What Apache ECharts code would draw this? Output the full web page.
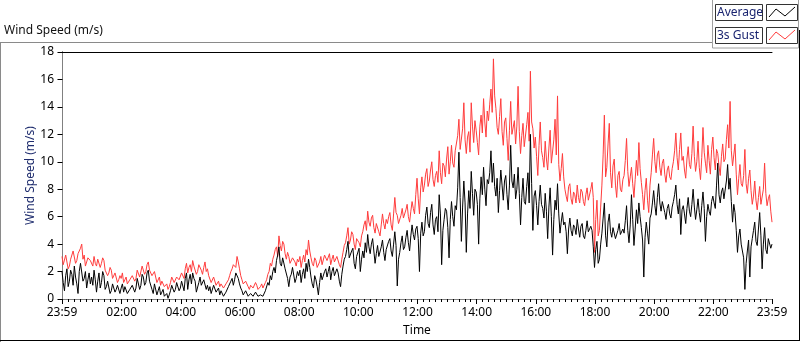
<!DOCTYPE html>
<html>
<head>
<meta charset="utf-8">
<script src="https://cdn.jsdelivr.net/npm/echarts@6/dist/echarts.min.js"></script>
<style>
html,body{margin:0;padding:0;background:#fff;}
#chart{width:800px;height:342px;}
</style>
</head>
<body>
<div id="chart"></div>
<script>
// Sampling: one reading every 2.5 minutes, starting at 23:59 (minute -1 relative to 00:00)
const startMinute = -1;
const stepMinutes = 2.5;

// 3s Gust (m/s), hour blocks of 24 readings
const gust = [
  3.1,2.5,2.6,3.2,3.3,2.2,2.4,2.9,3.0,3.5,3.6,2.6,2.8,3.3,3.4,3.7,4.0,2.9,3.2,2.4,2.7,3.0,3.1,2.8,
  2.9,2.4,3.1,2.6,2.4,2.9,3.0,2.3,2.6,3.0,2.8,2.1,2.2,1.7,1.9,2.3,2.1,1.5,1.6,1.9,1.8,1.2,1.4,1.7,
  1.5,1.9,1.2,1.4,1.6,1.1,1.0,1.4,1.3,1.7,1.8,1.3,1.5,2.1,2.0,1.6,1.7,2.4,2.3,1.8,2.0,2.5,2.7,2.1,
  2.2,1.7,1.6,2.0,1.9,1.2,1.3,1.6,1.0,1.3,1.4,0.9,0.9,1.1,0.7,0.9,1.2,1.6,1.5,1.2,1.3,1.6,1.6,1.4,
  1.4,1.9,1.8,1.5,2.2,2.6,1.9,2.3,2.5,2.0,2.8,2.4,2.3,1.8,2.0,2.5,2.6,2.1,1.8,2.3,2.7,2.0,2.2,1.7,
  1.6,1.2,1.3,1.6,1.5,1.0,1.1,1.3,0.9,1.1,1.2,0.8,0.8,1.1,1.0,1.4,1.7,2.0,2.2,2.5,2.6,2.3,3.1,2.7,
  2.2,1.7,1.4,1.1,1.0,1.3,1.3,0.9,0.7,1.0,1.1,0.8,0.8,1.2,1.0,0.7,0.6,0.9,1.1,0.8,0.9,1.2,1.4,1.8,
  2.0,2.6,2.4,2.9,3.2,3.6,3.8,3.1,4.6,3.9,3.5,4.2,4.0,3.3,2.9,3.4,3.1,2.6,2.5,3.0,3.0,2.7,2.4,2.9,
  2.7,3.1,2.3,2.8,3.2,2.7,3.6,3.2,4.3,3.5,3.0,2.6,2.4,3.0,2.8,2.3,2.2,2.7,3.1,2.5,2.6,3.2,3.3,2.8,
  2.9,3.3,2.5,2.9,3.2,2.7,2.6,3.1,3.0,2.5,2.3,2.9,3.4,3.9,4.1,4.6,5.2,4.0,4.3,4.9,4.7,4.0,3.6,4.4,
  4.5,4.1,3.8,4.6,4.9,5.4,5.7,5.0,6.4,5.6,5.3,5.9,6.1,5.2,4.8,5.5,5.6,4.9,4.6,5.4,6.2,5.5,5.1,5.8,
  5.5,6.0,6.3,5.4,5.0,6.2,7.4,6.3,6.1,5.5,5.4,6.1,6.6,5.9,5.8,6.5,6.9,6.0,5.6,6.4,7.1,6.6,6.2,7.6,
  8.8,7.3,6.2,8.1,8.9,7.8,8.3,9.1,9.5,8.2,8.6,9.4,10.0,8.7,8.2,9.0,9.3,8.5,10.8,9.2,8.4,9.9,9.7,8.9,
  10.2,11.1,9.1,10.0,11.2,9.9,9.6,10.8,10.7,11.9,13.1,10.9,11.0,12.4,14.3,11.6,10.6,11.8,12.2,10.7,14.3,12.6,11.4,13.0,
  12.3,11.4,10.5,12.6,13.4,12.1,14.6,12.9,11.8,13.7,13.0,14.2,15.3,13.6,17.5,14.8,13.9,12.5,12.0,13.3,14.6,12.2,11.2,12.9,
  13.2,11.7,10.1,12.3,14.4,12.0,12.1,13.0,11.3,12.6,15.5,12.2,10.6,11.9,12.8,11.1,11.0,12.7,13.6,11.5,16.6,12.9,12.4,11.0,
  11.8,10.4,9.0,11.2,12.9,10.8,10.3,9.6,11.5,10.2,9.4,11.0,12.3,9.9,10.0,11.6,13.1,10.5,14.8,9.8,8.6,9.5,10.6,8.9,
  8.0,7.5,7.1,8.2,8.4,7.3,6.9,7.8,7.6,7.0,8.3,7.4,7.0,8.0,7.8,7.1,6.8,7.6,8.1,7.2,7.3,8.0,8.5,7.4,
  3.4,5.8,7.2,4.6,5.0,6.7,8.3,10.5,13.4,8.9,9.6,11.3,12.8,9.2,8.1,9.7,10.2,8.3,7.4,9.0,9.3,8.0,7.8,8.7,
  9.0,10.1,11.7,9.3,8.2,8.9,9.6,8.4,7.4,8.7,10.1,9.0,11.4,9.5,8.5,7.6,6.5,7.9,8.8,7.2,6.3,8.3,9.2,10.5,
  11.7,10.0,9.2,10.5,10.8,9.6,9.0,9.9,10.2,9.1,8.5,9.4,9.7,8.9,8.7,9.5,10.0,10.8,12.1,10.3,9.4,10.9,12.1,10.1,
  10.4,9.4,8.8,10.2,11.1,9.8,9.5,10.6,12.6,10.4,9.3,10.0,11.5,9.6,8.7,10.3,12.5,10.7,9.9,9.2,11.2,10.1,9.1,10.9,
  11.8,10.3,9.4,10.9,10.6,9.7,9.0,10.4,11.3,10.0,10.2,11.6,12.7,11.0,14.4,10.8,9.7,10.5,11.3,9.1,7.6,8.8,9.8,8.4,
  8.2,9.0,10.9,8.4,7.7,8.8,9.4,7.9,6.9,7.5,8.6,7.2,6.5,7.4,8.2,6.9,7.0,8.0,9.9,7.7,6.8,7.3,7.6,6.4,
  5.6
];

// Average (m/s), hour blocks of 24 readings
const average = [
  2.0,1.2,0.6,1.7,2.2,0.9,1.3,2.1,1.8,1.0,2.4,1.6,1.1,0.4,2.0,2.6,2.5,1.3,1.5,2.0,0.8,1.4,1.9,1.1,
  1.6,1.0,2.1,1.4,0.5,1.3,1.9,0.8,1.2,2.0,1.7,0.7,0.9,1.3,1.2,0.4,0.6,1.1,1.0,0.5,0.7,1.0,0.9,0.4,
  0.8,1.1,0.5,0.9,0.9,0.4,0.3,0.7,0.6,1.0,1.1,0.5,0.8,1.5,1.4,0.7,1.0,1.8,1.6,1.0,1.2,1.9,2.1,1.3,
  1.2,0.7,0.4,1.1,1.0,0.3,0.6,0.9,0.3,0.5,0.7,0.2,0.2,0.4,0.05,0.3,0.6,1.0,0.9,0.5,0.7,1.2,1.1,0.6,
  0.8,1.3,1.2,0.6,1.5,1.9,0.7,1.4,1.8,1.1,1.9,1.5,1.3,0.5,0.6,1.2,1.6,1.0,0.9,1.4,1.5,0.7,1.0,0.6,
  0.9,0.4,0.5,1.0,1.1,0.5,0.4,0.8,0.3,0.6,0.6,0.2,0.2,0.5,0.4,0.9,1.0,1.3,1.5,1.0,1.4,1.9,2.0,1.5,
  1.1,0.8,0.6,0.3,0.3,0.6,0.7,0.2,0.1,0.4,0.5,0.2,0.2,0.5,0.6,0.2,0.1,0.3,0.4,0.2,0.3,0.6,0.7,1.2,
  1.0,1.7,1.4,2.0,2.3,1.9,2.8,3.2,3.8,2.6,2.4,3.0,3.1,2.2,2.1,1.5,0.9,1.6,1.8,2.3,2.2,1.2,1.5,2.0,
  1.7,2.1,1.2,1.8,2.2,1.5,2.6,2.0,2.9,2.3,1.6,1.1,0.8,1.7,1.4,0.9,0.3,1.2,1.9,1.4,1.3,2.0,2.2,1.6,
  2.0,2.4,1.4,2.0,2.3,1.7,1.6,2.2,1.9,1.3,0.9,1.8,2.4,2.9,3.1,3.6,4.2,3.0,2.9,3.5,3.7,2.6,2.2,3.1,
  3.2,3.7,2.0,2.9,3.5,3.0,4.1,3.4,4.7,3.8,3.3,4.0,4.4,3.5,2.6,3.3,3.9,3.1,3.0,3.8,4.3,3.4,2.8,3.6,
  3.6,4.2,4.4,3.5,3.1,4.0,4.9,3.9,0.95,2.9,3.4,4.1,4.6,3.6,3.8,4.5,5.0,4.1,3.5,4.6,5.4,4.7,4.3,5.1,
  5.3,4.4,2.0,4.8,5.6,4.6,4.9,6.1,6.7,5.5,5.2,6.3,6.9,5.4,4.7,5.8,6.0,4.9,7.6,6.2,2.5,5.0,5.8,6.6,
  6.4,5.2,3.0,5.8,7.1,6.0,5.3,6.8,6.5,8.1,10.7,7.4,4.2,6.7,8.6,7.0,3.4,6.2,7.9,6.6,9.3,7.7,6.1,8.0,
  7.8,6.9,4.0,7.3,8.9,7.6,9.6,8.0,6.8,8.7,8.4,9.2,10.8,8.5,9.9,8.2,7.5,8.8,6.3,7.9,9.4,8.3,7.2,8.6,
  9.0,7.6,6.5,8.3,11.2,8.6,8.1,9.1,7.3,8.0,9.6,7.7,5.4,7.4,8.8,7.1,6.9,8.2,9.2,7.0,12.0,8.4,5.0,7.5,
  7.9,6.8,5.4,7.1,8.3,6.9,6.6,5.9,7.7,6.4,4.4,6.7,8.1,6.0,3.2,5.8,7.2,6.5,8.4,6.2,4.8,5.6,6.3,5.4,
  5.6,4.9,3.3,5.1,5.9,5.0,4.6,5.4,5.2,4.7,5.8,5.1,4.5,5.3,5.5,4.6,4.4,5.0,5.7,4.9,4.8,5.3,5.0,3.8,
  2.3,3.6,4.2,2.6,2.9,4.0,4.8,5.9,7.0,4.6,3.8,5.6,6.2,4.9,4.5,5.2,5.3,4.4,4.3,5.0,5.5,4.7,4.6,5.1,
  4.8,5.7,6.8,5.0,4.1,5.4,7.6,5.8,3.9,5.1,6.5,5.5,7.0,6.0,5.2,4.3,1.6,4.5,5.6,4.8,4.0,5.9,6.2,7.0,
  7.9,6.8,6.1,7.4,8.4,7.0,6.4,7.1,7.2,6.3,5.8,6.6,6.9,6.2,5.9,6.7,7.1,7.6,8.3,6.9,6.2,7.3,4.7,6.5,
  6.8,6.2,5.5,6.6,7.4,6.4,6.0,6.9,8.0,6.7,5.8,6.5,7.3,6.3,5.6,6.8,7.8,6.6,4.2,6.0,6.9,6.4,6.1,7.1,
  7.5,7.0,6.6,8.3,9.9,7.6,7.0,7.8,8.1,7.3,7.2,8.6,9.8,8.0,8.8,7.1,5.6,6.9,6.3,5.0,3.4,4.6,5.1,4.0,
  4.1,3.0,0.7,2.6,3.5,4.3,1.6,3.8,4.4,5.0,5.6,4.2,3.9,5.1,6.3,4.6,2.2,4.0,5.2,3.6,3.3,4.4,4.5,3.7,
  4.0
];

// Axis tick labels
const xLabelMinutes = [-1, 120, 240, 360, 480, 600, 720, 840, 960, 1080, 1200, 1320, 1439];
const xLabelTexts = ['23:59', '02:00', '04:00', '06:00', '08:00', '10:00', '12:00', '14:00', '16:00', '18:00', '20:00', '22:00', '23:59'];
const yMin = 0, yMax = 18, yStep = 2;
const seriesNames = ['Average', '3s Gust'];

const FONT = '"Noto Sans", "Liberation Sans", sans-serif';

const times = gust.map((_, i) => startMinute + i * stepMinutes);
const gustData = gust.map((v, i) => [times[i], v]);
const avgData = average.map((v, i) => [times[i], v]);

const minorTicks = [];
for (let m = 12; m < 1439; m += 12) {
  if (m % 120 !== 0) minorTicks.push(m);
}

const chart = echarts.init(document.getElementById('chart'), null, { renderer: 'canvas' });

const option = {
  animation: false,
  backgroundColor: '#fff',
  grid: { left: 62, right: 28, top: 52, bottom: 40, containLabel: false },
  xAxis: [
    {
      type: 'value', min: -1, max: 1439, position: 'bottom',
      axisLine: { show: true, lineStyle: { color: '#808080', width: 1 } },
      axisTick: { show: true, customValues: xLabelMinutes, length: 5, lineStyle: { color: '#000' } },
      axisLabel: {
        show: true, customValues: xLabelMinutes, margin: 8,
        formatter: (v) => { const i = xLabelMinutes.indexOf(Math.round(v)); return i >= 0 ? xLabelTexts[i] : ''; },
        color: '#000', fontSize: 12, fontFamily: FONT
      },
      splitLine: { show: false },
      name: 'Time', nameLocation: 'middle', nameGap: 26, nameMoveOverlap: false,
      nameTextStyle: { color: '#000', fontSize: 12, fontFamily: FONT }
    },
    {
      type: 'value', min: -1, max: 1439, position: 'bottom',
      axisLine: { show: false },
      axisTick: { show: true, customValues: minorTicks, length: 3, lineStyle: { color: '#000' } },
      axisLabel: { show: false },
      splitLine: { show: false }
    },
    {
      type: 'value', min: -1, max: 1439, position: 'top',
      axisLine: { show: true, lineStyle: { color: '#000', width: 1 } },
      axisTick: { show: false }, axisLabel: { show: false }, splitLine: { show: false }
    }
  ],
  yAxis: [
    {
      type: 'value', min: yMin, max: yMax, interval: yStep, position: 'left',
      axisLine: { show: true, lineStyle: { color: '#000', width: 1 } },
      axisTick: { show: true, length: 5, lineStyle: { color: '#000' } },
      axisLabel: { color: '#000', fontSize: 12, fontFamily: FONT, margin: 8 },
      splitLine: { show: false },
      name: 'Wind Speed (m/s)', nameLocation: 'middle', nameGap: 25, nameMoveOverlap: false,
      nameTextStyle: { color: '#1f2d6e', fontSize: 12, fontFamily: FONT }
    },
    {
      type: 'value', min: yMin, max: yMax, interval: yStep, position: 'right',
      axisLine: { show: true, lineStyle: { color: '#808080', width: 1 } },
      axisTick: { show: false }, axisLabel: { show: false }, splitLine: { show: false }
    }
  ],
  series: [
    {
      name: seriesNames[1], type: 'line', xAxisIndex: 0, yAxisIndex: 0,
      data: gustData, showSymbol: false, symbol: 'none', sampling: null,
      lineStyle: { color: '#ff3c3c', width: 1 }, itemStyle: { color: '#ff3c3c' }, z: 2
    },
    {
      name: seriesNames[0], type: 'line', xAxisIndex: 0, yAxisIndex: 0,
      data: avgData, showSymbol: false, symbol: 'none', sampling: null,
      lineStyle: { color: '#000', width: 1 }, itemStyle: { color: '#000' }, z: 3
    }
  ],
  graphic: [
    { type: 'line', shape: { x1: 0, y1: 42.5, x2: 712, y2: 42.5 }, style: { stroke: '#8a8a8a', lineWidth: 1 }, silent: true },
    { type: 'line', shape: { x1: 0.5, y1: 42, x2: 0.5, y2: 342 }, style: { stroke: '#8a8a8a', lineWidth: 1 }, silent: true },
    { type: 'line', shape: { x1: 0, y1: 340.5, x2: 800, y2: 340.5 }, style: { stroke: '#000', lineWidth: 1 }, silent: true },
    { type: 'line', shape: { x1: 799.5, y1: 30, x2: 799.5, y2: 341 }, style: { stroke: '#000', lineWidth: 1 }, silent: true },
    { type: 'text', left: 4, top: 25, style: { text: 'Wind Speed (m/s)', fill: '#111', font: '12px ' + FONT }, silent: true },
    { type: 'rect', shape: { x: 712.5, y: -1, width: 86, height: 49 }, style: { fill: '#fff', stroke: '#a0a0a0', lineWidth: 1 }, silent: true, z: 10 },
    { type: 'rect', shape: { x: 715.5, y: 4.5, width: 47, height: 16 }, style: { fill: '#fff', stroke: '#333', lineWidth: 1 }, silent: true, z: 11 },
    { type: 'text', x: 717, y: 12.5, style: { text: seriesNames[0], fill: '#1a2470', font: '12px ' + FONT, verticalAlign: 'middle' }, silent: true, z: 12 },
    { type: 'rect', shape: { x: 766.5, y: 4.5, width: 31, height: 16 }, style: { fill: '#fff', stroke: '#333', lineWidth: 1 }, silent: true, z: 11 },
    { type: 'polyline', shape: { points: [[769, 17], [776, 9], [785, 16], [795, 7]] }, style: { stroke: '#000', lineWidth: 1, fill: null }, silent: true, z: 12 },
    { type: 'rect', shape: { x: 715.5, y: 27.5, width: 47, height: 16 }, style: { fill: '#fff', stroke: '#333', lineWidth: 1 }, silent: true, z: 11 },
    { type: 'text', x: 717, y: 35.5, style: { text: seriesNames[1], fill: '#1a2470', font: '12px ' + FONT, verticalAlign: 'middle' }, silent: true, z: 12 },
    { type: 'rect', shape: { x: 766.5, y: 27.5, width: 31, height: 16 }, style: { fill: '#fff', stroke: '#333', lineWidth: 1 }, silent: true, z: 11 },
    { type: 'polyline', shape: { points: [[769, 40], [776, 32], [785, 39], [795, 30]] }, style: { stroke: '#ff3c3c', lineWidth: 1, fill: null }, silent: true, z: 12 }
  ]
};

chart.setOption(option);
</script>
</body>
</html>
